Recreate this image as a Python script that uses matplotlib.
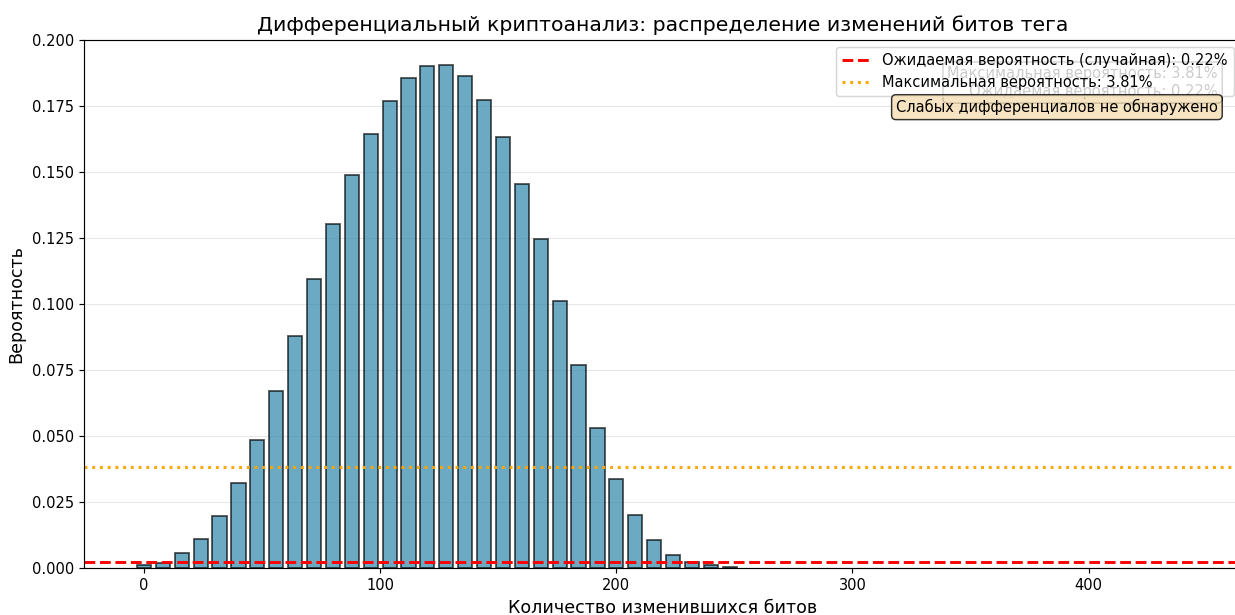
import matplotlib
matplotlib.use("Agg")
import matplotlib.pyplot as plt

# Data
bits_changed = [0, 8, 16, 24, 32, 40, 48, 56, 64, 72, 80, 88, 96, 104, 112, 120, 128,
                136, 144, 152, 160, 168, 176, 184, 192, 200, 208, 216, 224, 232, 240, 248]
probabilities = [0.0008, 0.0018, 0.0055, 0.0109, 0.0195, 0.0319, 0.0482, 0.0671, 0.0879,
                 0.1093, 0.1302, 0.1489, 0.1645, 0.1769, 0.1857, 0.1902, 0.1906,
                 0.1864, 0.1773, 0.1634, 0.1455, 0.1245, 0.1011, 0.0767, 0.0530,
                 0.0337, 0.0198, 0.0105, 0.0047, 0.0020, 0.0008, 0.0002]
expected_prob = 0.0022
max_prob = 0.0381

title = "Дифференциальный криптоанализ: распределение изменений битов тега"
xlabel = "Количество изменившихся битов"
ylabel = "Вероятность"
label_expected = "Ожидаемая вероятность (случайная): 0.22%"
label_max = "Максимальная вероятность: 3.81%"
stats_text = "Максимальная вероятность: 3.81%\nОжидаемая вероятность: 0.22%"
verdict_text = "Слабых дифференциалов не обнаружено"

plt.rcParams['font.family'] = ['DejaVu Sans']

DPI = 105
W, H = 1235, 615
fig = plt.figure(figsize=(W / DPI, H / DPI), dpi=DPI)
ax_left, ax_right, ax_top, ax_bottom = 84, 1241, 40, 567.5
ax = fig.add_axes([ax_left / W, (H - ax_bottom) / H, (ax_right - ax_left) / W, (ax_bottom - ax_top) / H])

ax.bar(bits_changed, probabilities, width=6.0, color='#2E86AB', alpha=0.7,
       edgecolor='black', linewidth=1.2)
ax.axhline(expected_prob, color='red', linestyle='--', linewidth=2, label=label_expected)
ax.axhline(max_prob, color='orange', linestyle=':', linewidth=2, label=label_max)

ax.set_xlim(-25.4, 464.5)
ax.set_ylim(0, 0.2)
ax.set_yticks([0, 0.025, 0.05, 0.075, 0.1, 0.125, 0.15, 0.175, 0.2])
ax.yaxis.set_major_formatter(matplotlib.ticker.FormatStrFormatter('%.3f'))
ax.set_xticks([0, 100, 200, 300, 400])
ax.tick_params(labelsize=10)
ax.grid(True, axis='y', alpha=0.3)
ax.set_axisbelow(True)

ax.set_title(title, fontsize=14)
ax.set_xlabel(xlabel, fontsize=12)
ax.set_ylabel(ylabel, fontsize=12)

ax.text(0.98, 0.95, stats_text, transform=ax.transAxes, ha='right', va='top', fontsize=10,
        bbox=dict(boxstyle='round', facecolor='white', alpha=0.8), zorder=3)
ax.text(0.98, 0.888, verdict_text, transform=ax.transAxes, ha='right', va='top', fontsize=10,
        bbox=dict(boxstyle='round', facecolor='wheat', alpha=0.8), zorder=6)

leg = ax.legend(loc='upper right', fontsize=10, framealpha=0.8)
leg.set_zorder(5)

fig.savefig('out.png', dpi=DPI)
